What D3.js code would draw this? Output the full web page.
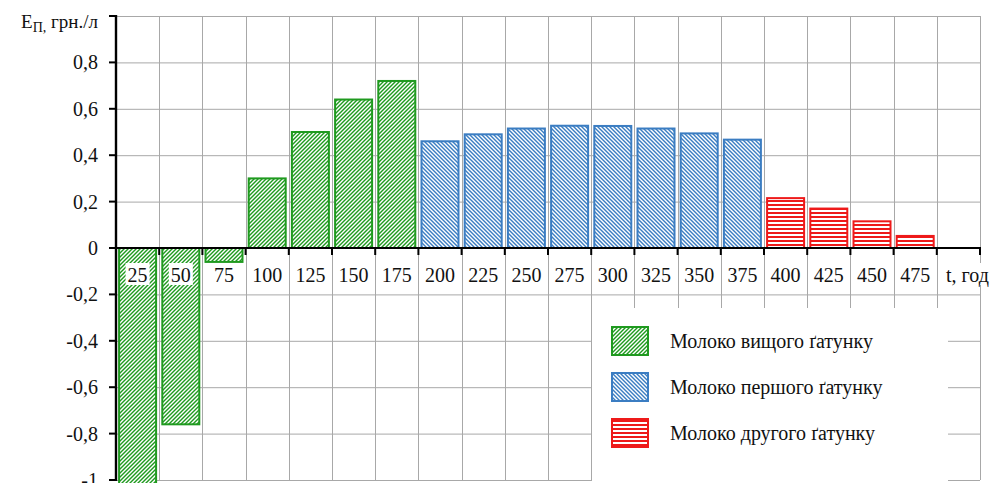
<!DOCTYPE html>
<html>
<head>
<meta charset="utf-8">
<script src="https://cdn.jsdelivr.net/npm/d3@7"></script>
<style>
  body { margin: 0; background: #fff; }
</style>
</head>
<body>
<div class="chart"></div>
<script>
// years on the x axis, the last column only holds the axis name
var tickLabels = ["25", "50", "75", "100", "125", "150", "175", "200", "225", "250",
  "275", "300", "325", "350", "375", "400", "425", "450", "475", "t, год"];

// three groups of milk
var yearsTop = ["25", "50", "75", "100", "125", "150", "175"];
var valuesTop = [-1.05, -0.76, -0.06, 0.30, 0.50, 0.64, 0.72];
var yearsFirst = ["200", "225", "250", "275", "300", "325", "350", "375"];
var valuesFirst = [0.46, 0.49, 0.515, 0.527, 0.526, 0.515, 0.494, 0.467];
var yearsSecond = ["400", "425", "450", "475"];
var valuesSecond = [0.215, 0.17, 0.115, 0.052];

var yTicks = [1, 0.8, 0.6, 0.4, 0.2, 0, -0.2, -0.4, -0.6, -0.8, -1];
var legendNames = ["Молоко вищого ґатунку", "Молоко першого ґатунку", "Молоко другого ґатунку"];

var width = 997, height = 483;
var green = "#1f9a1f", blue = "#3b7dc2", red = "#ee1a1a";
var series = [
  {name: legendNames[0], color: green, pat: "patTop", years: yearsTop, values: valuesTop},
  {name: legendNames[1], color: blue, pat: "patFirst", years: yearsFirst, values: valuesFirst},
  {name: legendNames[2], color: red, pat: "patSecond", years: yearsSecond, values: valuesSecond}
];

var x = d3.scaleBand().domain(tickLabels).range([116, 980]);
var y = d3.scaleLinear().domain([-1, 1]).range([480, 16]);

var svg = d3.select(".chart").append("svg")
  .attr("width", width)
  .attr("height", height)
  .attr("font-family", "'Liberation Serif', 'DejaVu Serif', 'Times New Roman', serif");

//hatch patterns, 4px tiles so the stripes stay crisp
var defs = svg.append("defs");
function hatch(id, color, d) {
  var p = defs.append("pattern")
    .attr("id", id)
    .attr("patternUnits", "userSpaceOnUse")
    .attr("width", 4).attr("height", 4);
  p.append("rect").attr("width", 4).attr("height", 4).attr("fill", "#fff");
  p.append("path").attr("d", d).attr("fill", color);
}
hatch("patTop", green, "M0,0H2L0,2Z M4,0V2L2,4H0Z");
hatch("patFirst", blue, "M4,0H2L4,2Z M0,0V2L2,4H4Z");
hatch("patSecond", red, "M0,0H4V2H0Z");

//grid
var grid = svg.append("g").attr("stroke", "#a8a8a8").attr("stroke-width", 1);
grid.selectAll(".h").data(yTicks).enter().append("line")
  .attr("x1", 116).attr("x2", 980)
  .attr("y1", function(d) {return y(d) + 0.5}).attr("y2", function(d) {return y(d) + 0.5});
var bounds = tickLabels.map(function(t) {return x(t)}).concat([980]);
grid.selectAll(".v").data(bounds.slice(1)).enter().append("line")
  .attr("x1", function(d) {return Math.round(d) + 0.5}).attr("x2", function(d) {return Math.round(d) + 0.5})
  .attr("y1", 16).attr("y2", 480);

//bars
var inset = 3.1;
series.forEach(function(s) {
  svg.append("g").selectAll("rect")
    .data(s.values)
    .enter().append("rect")
    .attr("x", function(d, i) {return x(s.years[i]) + inset})
    .attr("width", x.bandwidth() - 2 * inset)
    .attr("y", function(d) {return y(Math.max(0, d))})
    .attr("height", function(d) {return Math.abs(y(d) - y(0))})
    .attr("fill", "url(#" + s.pat + ")")
    .attr("stroke", s.color)
    .attr("stroke-width", 2);
});

//x axis
svg.append("line").attr("x1", 116).attr("x2", 981).attr("y1", y(0)).attr("y2", y(0))
  .attr("stroke", "#000").attr("stroke-width", 2.2);
svg.append("g").selectAll("line").data(bounds).enter().append("line")
  .attr("x1", function(d) {return d}).attr("x2", function(d) {return d})
  .attr("y1", y(0)).attr("y2", y(0) + 7)
  .attr("stroke", "#000").attr("stroke-width", 2);

var xl = svg.append("g").attr("font-size", 20).attr("text-anchor", "middle");
tickLabels.forEach(function(t, i) {
  var cx = x(t) + x.bandwidth() / 2 + (i == tickLabels.length - 1 ? 9 : 0);
  var txt = xl.append("text").attr("x", cx).attr("y", 282).attr("fill", "#111").text(t);
  var b = txt.node().getBBox();
  xl.insert("rect", "text").attr("x", b.x - 2).attr("y", 263).attr("width", b.width + 4).attr("height", 22).attr("fill", "#fff");
});

//y axis
svg.append("line").attr("x1", 116).attr("x2", 116).attr("y1", 15).attr("y2", 481)
  .attr("stroke", "#000").attr("stroke-width", 2.4);
svg.append("g").selectAll("line").data(yTicks).enter().append("line")
  .attr("x1", 109).attr("x2", 116)
  .attr("y1", function(d) {return y(d)}).attr("y2", function(d) {return y(d)})
  .attr("stroke", "#000").attr("stroke-width", 2);
svg.append("g").attr("font-size", 20).attr("text-anchor", "end")
  .selectAll("text").data(yTicks.slice(1)).enter().append("text")
  .attr("x", 98).attr("y", function(d) {return y(d) + 7})
  .attr("fill", "#111")
  .text(function(d) {return String(d).replace(".", ",")});

var title = svg.append("text").attr("x", 98).attr("y", 28).attr("text-anchor", "end")
  .attr("font-size", 19).attr("fill", "#111");
title.append("tspan").text("E");
title.append("tspan").attr("font-size", 14).attr("dy", 4).text("П,");
title.append("tspan").attr("dy", -4).text(" грн./л");

//legend
var legend = svg.append("g");
legend.append("rect").attr("x", 592).attr("y", 308).attr("width", 356).attr("height", 180).attr("fill", "#fff");
series.forEach(function(s, i) {
  var ly = 327 + i * 46;
  legend.append("rect").attr("x", 612).attr("y", ly).attr("width", 36).attr("height", 28)
    .attr("fill", "url(#" + s.pat + ")").attr("stroke", s.color).attr("stroke-width", 2);
  legend.append("text").attr("x", 670).attr("y", ly + 21).attr("font-size", 20).attr("fill", "#111").text(s.name);
});
</script>
</body>
</html>
